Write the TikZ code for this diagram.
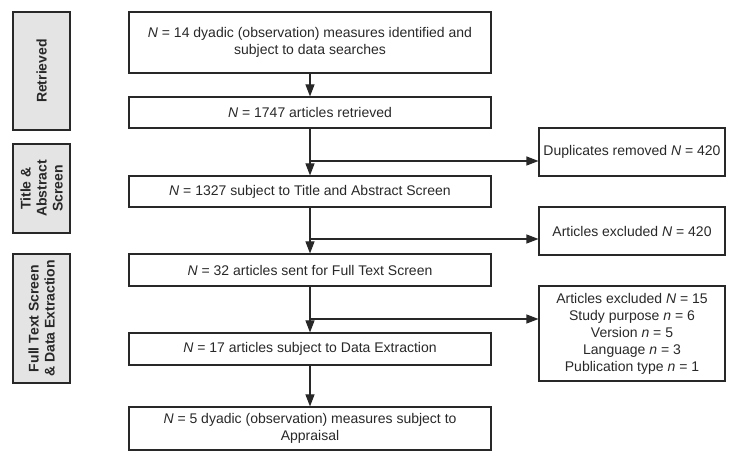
\documentclass[tikz,border=0pt]{standalone}
\usepackage{fontspec}
\setmainfont{Liberation Sans}
\usetikzlibrary{positioning,arrows.meta}
\definecolor{ink}{RGB}{40,40,40}
\definecolor{side}{RGB}{228,228,228}

\begin{document}
\begin{tikzpicture}[x=1pt,y=1pt,
  every node/.style={draw=ink,line width=1.1pt,text=ink,font=\fontsize{14}{17}\selectfont,align=center,inner sep=2pt},
  box/.style={minimum width=362pt,minimum height=31pt},
  note/.style={minimum width=186pt,minimum height=48pt},
  stage/.style={fill=side,rotate=90,minimum height=57pt,font=\fontsize{14}{16}\selectfont\bfseries},
  edge/.style={-{Triangle[length=12pt,width=9pt]},line width=1.1pt,draw=ink}
]
\useasboundingbox (0,0) rectangle (733,452);
\node[stage,minimum width=118pt] (s1) at (41.5,381) {Retrieved};
\node[stage,minimum width=89pt] (s2) at (41.5,263.5) {Title \&\\Abstract\\Screen};
\node[stage,minimum width=129pt] (s3) at (41.5,133.5) {Full Text Screen\\\& Data Extraction};
\node[box,minimum height=61pt] (b1) at (310,409.5) {\textit{N} = 14 dyadic (observation) measures identified and\\subject to data searches};
\node[box] (b2) at (310,339.5) {\textit{N} = 1747 articles retrieved};
\node[box] (b3) at (310,260.5) {\textit{N} = 1327 subject to Title and Abstract Screen};
\node[box,minimum height=32pt] (b4) at (310,182) {\textit{N} = 32 articles sent for Full Text Screen};
\node[box,minimum height=32pt] (b5) at (310,103) {\textit{N} = 17 articles subject to Data Extraction};
\node[box,minimum height=43pt] (b6) at (310,23.5) {\textit{N} = 5 dyadic (observation) measures subject to\\Appraisal};
\node[note] (d1) at (632,300) {Duplicates removed \textit{N} = 420};
\node[note] (d2) at (632,221) {Articles excluded \textit{N} = 420};
\node[note,minimum height=95pt] (d3) at (632,118.5) {Articles excluded \textit{N} = 15\\Study purpose \textit{n} = 6\\Version \textit{n} = 5\\Language \textit{n} = 3\\Publication type \textit{n} = 1};
\coordinate (j1) at (310,291);
\coordinate (j2) at (310,213);
\coordinate (j3) at (310,133);
\draw[edge] (b1)--(b2); \draw[edge] (b2)--(b3);
\draw[edge] (b3)--(b4); \draw[edge] (b4)--(b5);
\draw[edge] (b5)--(b6);
\draw[edge] (j1)--(j1-|d1.west);
\draw[edge] (j2)--(j2-|d2.west);
\draw[edge] (j3)--(j3-|d3.west);
\end{tikzpicture}
\end{document}
